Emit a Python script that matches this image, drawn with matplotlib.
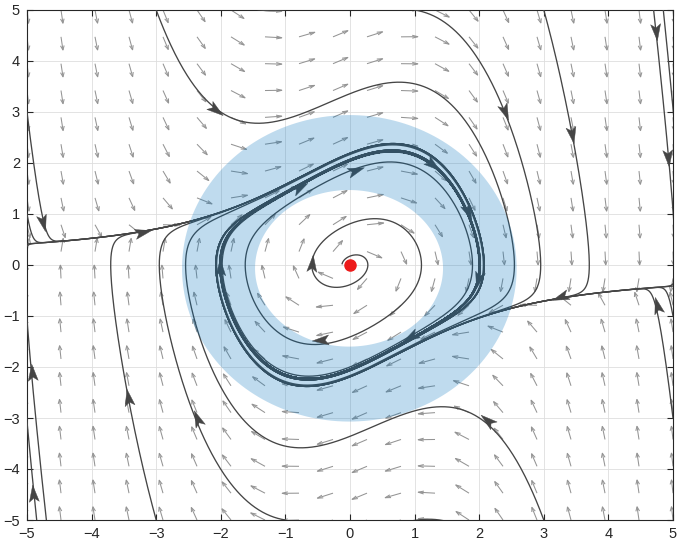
import numpy as np
import matplotlib
matplotlib.use('Agg')
import matplotlib.pyplot as plt
from matplotlib.path import Path
from matplotlib.patches import PathPatch
from matplotlib.markers import MarkerStyle
from matplotlib.collections import LineCollection

plt.rcParams['font.family'] = ['Liberation Sans', 'DejaVu Sans']

# van der Pol oscillator  x' = y,  y' = mu (1 - x^2) y - x
mu = 0.5

# initial conditions of the trajectories, with backward / forward integration time
traj_x0 = [-5.0, -5.0, -3.0, -1.22, 1.0, 3.0, 4.70, 4.85,
           5.0, 5.0, 3.0, 1.22, -1.0, -3.0, -4.70, -4.85, -0.59]
traj_y0 = [3.0, 1.0, 5.0, 4.985, 5.0, 5.0, 5.0, 5.0,
           -3.0, -1.0, -5.0, -4.985, -5.0, -5.0, -5.0, -5.0, 0.04]
back_time = [0, 0, 0, 0.3, 0, 0, 0, 0, 0, 0, 0, 0.3, 0, 0, 0, 0, 6.3]
fwd_time = [30, 30, 30, 0.3, 30, 30, 30, 30, 30, 30, 30, 0.3, 30, 30, 30, 30, 40]

# arrowheads on the trajectories
arrow_x = [-4.75, 4.75, -2.07, 2.12, 2.40, -2.37, 3.44, -3.43, 4.73, -4.90, 4.92, -4.92,
           -3.2, 3.25, -0.77, 0.10, 1.29, 1.83, 1.98, 0.93, -0.46, -2.01, -0.59]
arrow_y = [0.82, -0.78, 3.04, -3.04, 3.00, -3.00, 2.55, -2.59, 4.57, -4.47, 2.10, -2.10,
           0.65, -0.62, 1.53, 1.86, 1.96, 1.04, -0.30, -1.41, -1.47, -0.04, 0.04]

# trapping annulus (outer / inner ellipse: centre x, centre y, a, b)
outer_ring = [-0.01, -0.065, 2.59, 3.005]
inner_ring = [-0.015, -0.065, 1.455, 1.535]

n_grid = 20
arrow_len = 0.26


def field(x, y):
    return y, mu * (1 - x ** 2) * y - x


def integrate(x0, y0, T, h=0.004):
    n = int(abs(T) / h)
    h = np.sign(T) * h
    xs = [x0]
    ys = [y0]
    x, y = x0, y0
    for i in range(n):
        k1 = field(x, y)
        k2 = field(x + h / 2 * k1[0], y + h / 2 * k1[1])
        k3 = field(x + h / 2 * k2[0], y + h / 2 * k2[1])
        k4 = field(x + h * k3[0], y + h * k3[1])
        x = x + h / 6 * (k1[0] + 2 * k2[0] + 2 * k3[0] + k4[0])
        y = y + h / 6 * (k1[1] + 2 * k2[1] + 2 * k3[1] + k4[1])
        xs.append(x)
        ys.append(y)
        if abs(x) > 25 or abs(y) > 25:
            break
    return np.array(xs), np.array(ys)


fig = plt.figure(figsize=(6.77, 5.45), dpi=100)
ax = fig.add_axes([27 / 677, 25 / 545, 646 / 677, 510 / 545])
ax.set_xlim(-5, 5)
ax.set_ylim(-5, 5)

# direction field, matlab-like open arrowheads
g = np.linspace(-5, 5, n_grid)
X, Y = np.meshgrid(g, g)
U, V = field(X, Y)
N = np.sqrt(U ** 2 + V ** 2)
u = (U / N * arrow_len).ravel()
v = (V / N * arrow_len).ravel()
x = X.ravel()
y = Y.ravel()
al, be = 0.33, 0.33
segs = []
for i in range(len(x)):
    tx, ty = x[i] + u[i], y[i] + v[i]
    segs.append([(x[i], y[i]), (tx, ty)])
    segs.append([(tx - al * (u[i] + be * v[i]), ty - al * (v[i] - be * u[i])), (tx, ty),
                 (tx - al * (u[i] - be * v[i]), ty - al * (v[i] + be * u[i]))])
ax.add_collection(LineCollection(segs, colors='0.58', linewidths=0.75, zorder=2))

line_c = '0.27'
for x0, y0, tb, tf in zip(traj_x0, traj_y0, back_time, fwd_time):
    xb, yb = integrate(x0, y0, -tb)
    xf, yf = integrate(x0, y0, tf)
    ax.plot(np.r_[xb[::-1], xf], np.r_[yb[::-1], yf], color=line_c, lw=0.95, zorder=3)

# arrowheads
head = Path([(1, 0), (-1, 0.6), (-0.55, 0), (-1, -0.6), (1, 0)],
            [Path.MOVETO, Path.LINETO, Path.LINETO, Path.LINETO, Path.CLOSEPOLY])
sx = 646 / 10
sy = 510 / 10
for px, py in zip(arrow_x, arrow_y):
    du, dv = field(px, py)
    ang = np.degrees(np.arctan2(dv * sy, du * sx))
    ax.plot(px, py, marker=MarkerStyle(head).rotated(deg=ang), ms=12,
            color=line_c, mec=line_c, mew=0.3, zorder=4)

# annulus
t = np.linspace(0, 2 * np.pi, 200)
ox = outer_ring[0] + outer_ring[2] * np.cos(t)
oy = outer_ring[1] + outer_ring[3] * np.sin(t)
ix = inner_ring[0] + inner_ring[2] * np.cos(t[::-1])
iy = inner_ring[1] + inner_ring[3] * np.sin(t[::-1])
verts = np.r_[np.c_[ox, oy], np.c_[ix, iy]]
codes = np.full(len(verts), Path.LINETO)
codes[0] = Path.MOVETO
codes[len(t)] = Path.MOVETO
ring = PathPatch(Path(verts, codes), facecolor=(0, 0.447, 0.741), alpha=0.25,
                 edgecolor='none', zorder=5)
ax.add_patch(ring)

ax.plot(0, 0, 'o', color=(0.93, 0.1, 0.1), ms=8, zorder=6)

ax.set_xticks(range(-5, 6))
ax.set_yticks(range(-5, 6))
ax.grid(True, color='0.87', lw=0.6)
ax.set_axisbelow(True)
ax.tick_params(direction='in', length=4, width=0.8, top=True, right=True,
               labelsize=10.5, colors='0.15', pad=5)
for s in ax.spines.values():
    s.set_color('0.15')
    s.set_linewidth(0.8)

fig.savefig('out.png', dpi=100)
